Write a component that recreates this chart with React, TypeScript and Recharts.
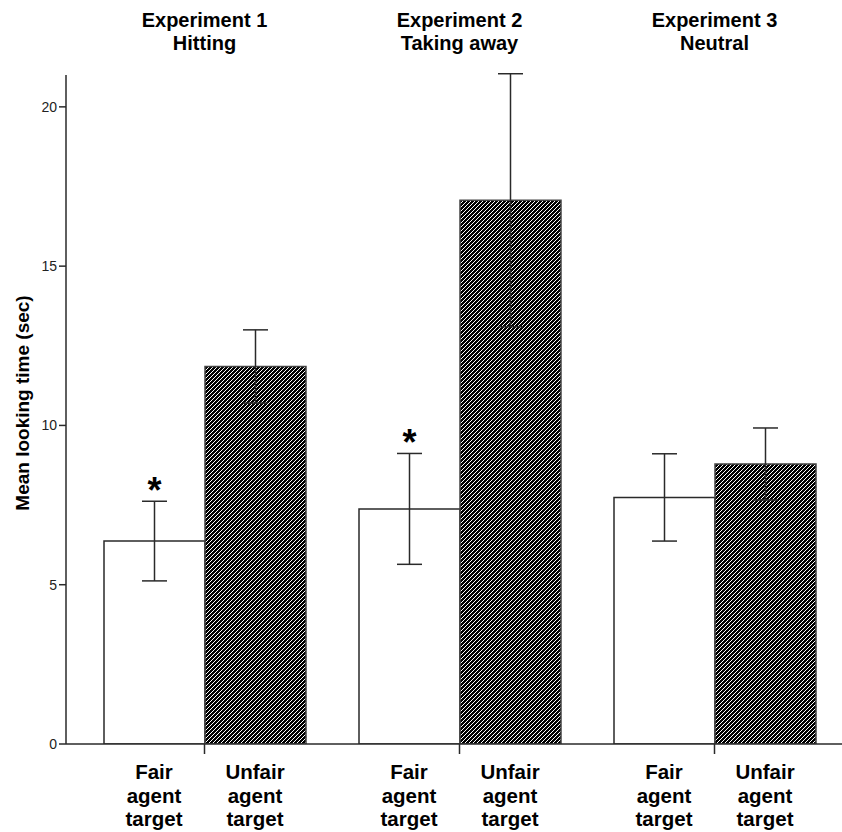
import React from 'react';
import { BarChart, Bar, XAxis, YAxis, ErrorBar, LabelList, Label } from 'recharts';

if (typeof document !== 'undefined') {
  document.body.style.margin = '0';
}

const experiments = ['Experiment 1', 'Experiment 2', 'Experiment 3'];
const conditions = ['Hitting', 'Taking away', 'Neutral'];
const fairMeans = [6.37, 7.38, 7.74];
const fairErrors = [1.25, 1.74, 1.37];
const unfairMeans = [11.85, 17.07, 8.79];
const unfairErrors = [1.15, 3.97, 1.13];
const significant = ['*', '*', ''];
const barLabels = ['Fair', 'Unfair'];
const labelLines = ['agent', 'target'];
const yTicks = [0, 5, 10, 15, 20];
const yLabel = 'Mean looking time (sec)';

const data = experiments.map((name, i) => ({
  name,
  cond: conditions[i],
  fair: fairMeans[i],
  fairErr: fairErrors[i],
  unfair: unfairMeans[i],
  unfairErr: unfairErrors[i],
  sig: significant[i],
}));

const FONT = '"Liberation Sans", Arial, Helvetica, sans-serif';
const LINE = '#2a2a2a';
const BAR_SIZE = 101;

const TopTick = (props: any) => {
  const { x, payload, index } = props;
  return (
    <g>
      <text x={x} y={27} textAnchor="middle" fontFamily={FONT} fontWeight="bold" fontSize={20} fill="#000">
        {payload.value}
      </text>
      <text x={x} y={50} textAnchor="middle" fontFamily={FONT} fontWeight="bold" fontSize={20} fill="#000">
        {conditions[index]}
      </text>
    </g>
  );
};

const BottomTick = (props: any) => {
  const { x } = props;
  return (
    <g>
      {barLabels.map((lab, j) => {
        const cx = x + (j === 0 ? -BAR_SIZE / 2 : BAR_SIZE / 2);
        const lines = [lab, ...labelLines];
        return lines.map((t, k) => (
          <text
            key={`${j}-${k}`}
            x={cx}
            y={779 + k * 23.5}
            textAnchor="middle"
            fontFamily={FONT}
            fontWeight="bold"
            fontSize={20.5}
            fill="#000"
          >
            {t}
          </text>
        ));
      })}
    </g>
  );
};

const Asterisk = (props: any) => {
  const { x, y, width, height, index, value } = props;
  if (!value) return null;
  const v = fairMeans[index];
  const ppu = height / v;
  const errTop = y - fairErrors[index] * ppu;
  return (
    <text x={x + width / 2} y={errTop + 2} textAnchor="middle" fontFamily={FONT} fontWeight="bold" fontSize={36} fill="#000">
      {value}
    </text>
  );
};

const YLabel = () => (
  <text
    x={0}
    y={0}
    transform="translate(29, 403) rotate(-90)"
    textAnchor="middle"
    fontFamily={FONT}
    fontWeight="bold"
    fontSize={19}
    fill="#000"
  >
    {yLabel}
  </text>
);

export default function App() {
  return (
    <div style={{ width: 842, height: 832, background: '#fff' }}>
      <BarChart
        width={842}
        height={832}
        data={data}
        margin={{ top: 0, right: 0, bottom: 0, left: 0 }}
        barGap={0}
        barSize={BAR_SIZE}
        style={{ fontFamily: FONT }}
      >
        <defs>
          <pattern id="hatch" patternUnits="userSpaceOnUse" width="4" height="4">
            <rect x="0" y="0" width="4" height="4" fill="#000" />
            <path d="M-1,1 L1,-1 M0,4 L4,0 M3,5 L5,3" stroke="#fff" strokeWidth="1" />
          </pattern>
        </defs>
        <XAxis
          xAxisId="top"
          orientation="top"
          dataKey="name"
          height={75}
          axisLine={false}
          tickLine={false}
          tick={<TopTick />}
          padding={{ left: 11, right: 0 }}
          interval={0}
        />
        <XAxis
          xAxisId="bottom"
          dataKey="name"
          height={88}
          axisLine={{ stroke: LINE, strokeWidth: 1.5 }}
          tickLine={{ stroke: LINE, strokeWidth: 1.5 }}
          tickSize={10}
          tick={<BottomTick />}
          padding={{ left: 11, right: 0 }}
          interval={0}
        />
        <YAxis
          width={66}
          domain={[0, 21]}
          allowDataOverflow={true}
          ticks={yTicks}
          tickSize={7}
          tickMargin={2}
          axisLine={{ stroke: LINE, strokeWidth: 1.5 }}
          tickLine={{ stroke: LINE, strokeWidth: 1.5 }}
          tick={{ fill: '#222', fontSize: 14, fontFamily: FONT }}
        >
          <Label content={<YLabel />} />
        </YAxis>
        <Bar xAxisId="bottom" dataKey="fair" fill="#fff" stroke={LINE} strokeWidth={1.5} isAnimationActive={false}>
          <ErrorBar dataKey="fairErr" width={12.5} stroke={LINE} strokeWidth={1.5} />
          <LabelList dataKey="sig" content={<Asterisk />} />
        </Bar>
        <Bar xAxisId="bottom" dataKey="unfair" fill="url(#hatch)" stroke="#444" strokeWidth={1.5} isAnimationActive={false}>
          <ErrorBar dataKey="unfairErr" width={12.5} stroke={LINE} strokeWidth={1.5} />
        </Bar>
      </BarChart>
    </div>
  );
}
